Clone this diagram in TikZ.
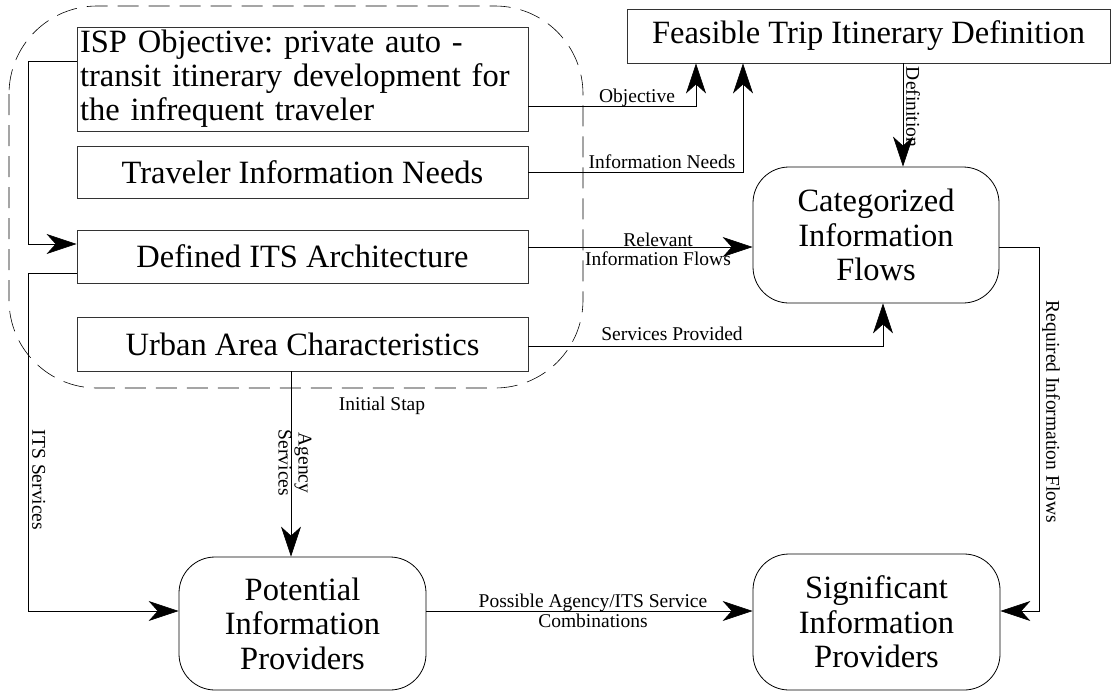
\documentclass[tikz,border=0pt]{standalone}
\usepackage{fontspec}
\setmainfont{Liberation Serif}
\usetikzlibrary{arrows.meta}
\begin{document}
\frenchspacing
\begin{tikzpicture}[x=1pt,y=-1pt,
  box/.style={draw=black!80, line width=0.9pt, inner sep=2pt, font=\fontsize{32.5}{34}\selectfont},
  rbox/.style={draw, line width=0.8pt, rounded corners=36pt, align=center, font=\fontsize{32.5}{34.5}\selectfont},
  lbl/.style={font=\fontsize{19.5}{20}\selectfont, inner sep=0pt},
  flow/.style={line width=0.7pt, -{Stealth[length=30pt,width=20pt,inset=9pt]}},
  line/.style={line width=0.7pt}]
\useasboundingbox (0,0) rectangle (1115,691);

% initial step group
\draw[dash pattern=on 21pt off 10pt, line width=0.6pt, rounded corners=88pt]
  (9,6) rectangle (583,388);
\node[lbl, anchor=base] (initial) at (382,410) {Initial Stap};

% input boxes
\node[box, minimum width=451pt, minimum height=104pt, text width=445pt, align=left] (isp) at (302.5,79)
  {ISP Objective: private auto -\\transit itinerary development for\\the infrequent traveler};
\node[box, minimum width=451pt, minimum height=52pt] (needs) at (302.5,172) {Traveler Information Needs};
\node[box, minimum width=451pt, minimum height=53pt] (arch) at (302.5,256.5) {Defined ITS Architecture};
\node[box, minimum width=451pt, minimum height=54pt] (urban) at (302.5,344) {Urban Area Characteristics};

\node[box, minimum width=483pt, minimum height=54pt] (trip) at (868.5,36) {Feasible Trip Itinerary Definition};

% process nodes
\node[rbox, minimum width=246pt, minimum height=136pt] (cat) at (876,235)
  {Categorized\\Information\\Flows};
\node[rbox, minimum width=247pt, minimum height=133pt] (pot) at (302.5,623.5)
  {Potential\\Information\\Providers};
\node[rbox, minimum width=247pt, minimum height=136pt] (sig) at (876.5,622)
  {Significant\\Information\\Providers};

% bend points
\coordinate (c1) at (28,61);
\coordinate (c2) at (28,273);
\coordinate (c3) at (696,106);
\coordinate (c4) at (743,172);
\coordinate (c5) at (883,346);
\coordinate (c6) at (1039,247);

% connectors
\draw[flow] (isp.west |- c1) -- (c1) |- (arch.west |- 0,244);
\draw[flow] (arch.west |- c2) -- (c2) |- (pot.west |- 0,611);
\draw[flow] (isp.east |- c3) -- (c3) -- (c3 |- trip.south);
\node[lbl, anchor=base] at (637,102) {Objective};
\draw[flow] (needs.east) -- (c4) -- (c4 |- trip.south);
\node[lbl, anchor=base] at (662,168) {Information Needs};
\draw[flow] (trip.south -| 903,0) -- (cat.north -| 903,0);
\node[lbl, rotate=-90, anchor=south] at (906,107) {Definition};
\draw[flow] (arch.east |- 0,247) -- (cat.west |- 0,247);
\node[lbl, align=center, font=\fontsize{19.5}{19}\selectfont] at (658,249) {Relevant\\Information Flows};
\draw[flow] (urban.east |- c5) -- (c5) -- (c5 |- cat.south);
\node[lbl, anchor=base] at (672,340) {Services Provided};
\draw[flow] (cat.east |- c6) -- (c6) |- (sig.east |- 0,611);
\node[lbl, rotate=-90, anchor=south] at (1042,412) {Required Information Flows};
\draw[flow] (urban.south -| 291,0) -- (pot.north -| 291,0);
\node[lbl, rotate=-90, align=center, font=\fontsize{19.5}{20}\selectfont] at (295,463) {Agency\\Services};
\node[lbl, rotate=-90, anchor=south] at (32,480) {ITS Services};
\draw[flow] (pot.east |- 0,611) -- (sig.west |- 0,611);
\node[lbl, align=center, font=\fontsize{19.5}{20}\selectfont] at (593,611) {Possible Agency/ITS Service\\Combinations};
\end{tikzpicture}
\end{document}
